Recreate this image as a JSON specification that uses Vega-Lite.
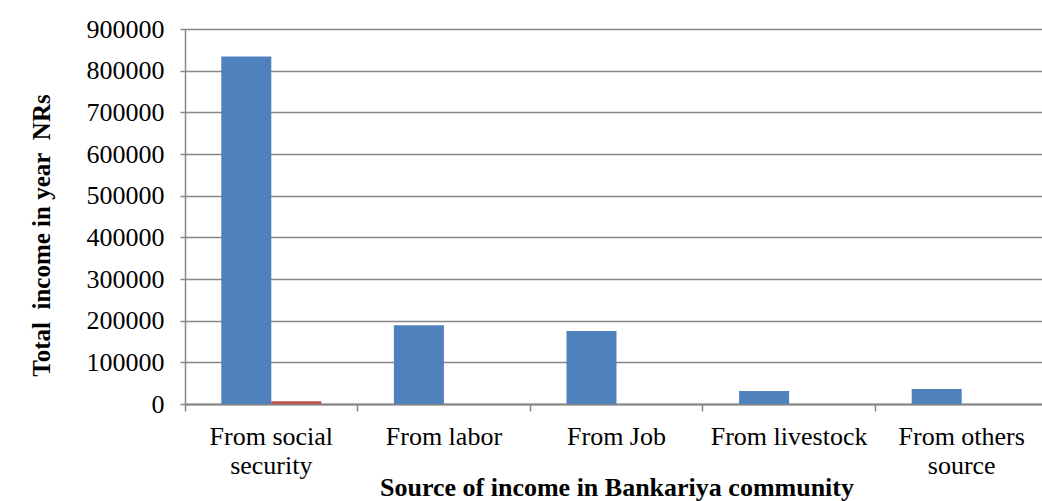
{
  "$schema": "https://vega.github.io/schema/vega-lite/v6.json",
  "width": 863,
  "height": 375,
  "autosize": "none",
  "padding": {"left": 185, "top": 29, "right": 0, "bottom": 97},
  "background": "white",
  "config": {"view": {"stroke": null}, "font": "Liberation Serif"},
  "data": {
    "values": [
      {"source": "From social security", "series": "Series1", "value": 834000},
      {"source": "From social security", "series": "Series2", "value": 6500},
      {"source": "From labor", "series": "Series1", "value": 189000},
      {"source": "From labor", "series": "Series2", "value": 0},
      {"source": "From Job", "series": "Series1", "value": 175000},
      {"source": "From Job", "series": "Series2", "value": 0},
      {"source": "From livestock", "series": "Series1", "value": 31000},
      {"source": "From livestock", "series": "Series2", "value": 0},
      {"source": "From others source", "series": "Series1", "value": 36000},
      {"source": "From others source", "series": "Series2", "value": 0}
    ]
  },
  "mark": {"type": "bar"},
  "encoding": {
    "x": {
      "field": "source",
      "type": "nominal",
      "sort": null,
      "scale": {"paddingInner": 0, "paddingOuter": 0},
      "axis": {
        "title": "Source of income in Bankariya community",
        "titleFont": "Liberation Serif",
        "titleFontSize": 26,
        "titleFontWeight": "bold",
        "titleColor": "black",
        "titlePadding": -4,
        "labelFont": "Liberation Serif",
        "labelFontSize": 26,
        "labelColor": "black",
        "labelAngle": 0,
        "labelPadding": 12,
        "labelLineHeight": 29,
        "labelBaseline": "top",
        "labelExpr": "datum.value == 'From social security' ? ['From social', 'security'] : datum.value == 'From others source' ? ['From others', 'source'] : datum.value",
        "bandPosition": 0,
        "tickSize": 7,
        "tickColor": "#868686",
        "tickWidth": 1.5,
        "domainColor": "#868686",
        "domainWidth": 2,
        "grid": false
      }
    },
    "xOffset": {
      "field": "series",
      "type": "nominal",
      "scale": {"paddingInner": 0, "paddingOuter": 0.726}
    },
    "y": {
      "field": "value",
      "type": "quantitative",
      "scale": {"domain": [0, 900000], "nice": false},
      "axis": {
        "title": "Total\u00a0 income in year\u00a0 NRs",
        "titleFont": "Liberation Serif",
        "titleFontSize": 25,
        "titleFontWeight": "bold",
        "titleColor": "black",
        "titlePadding": 32,
        "titleY": 206,
        "labelFont": "Liberation Serif",
        "labelFontSize": 26,
        "labelColor": "black",
        "labelPadding": 16,
        "values": [0, 100000, 200000, 300000, 400000, 500000, 600000, 700000, 800000, 900000],
        "format": "d",
        "tickSize": 5,
        "tickColor": "#868686",
        "tickWidth": 1.5,
        "domainColor": "#868686",
        "domainWidth": 1.5,
        "grid": true,
        "gridColor": "#868686",
        "gridWidth": 1.3
      }
    },
    "color": {
      "field": "series",
      "type": "nominal",
      "scale": {"domain": ["Series1", "Series2"], "range": ["#4F81BD", "#C0504D"]},
      "legend": null
    }
  }
}
